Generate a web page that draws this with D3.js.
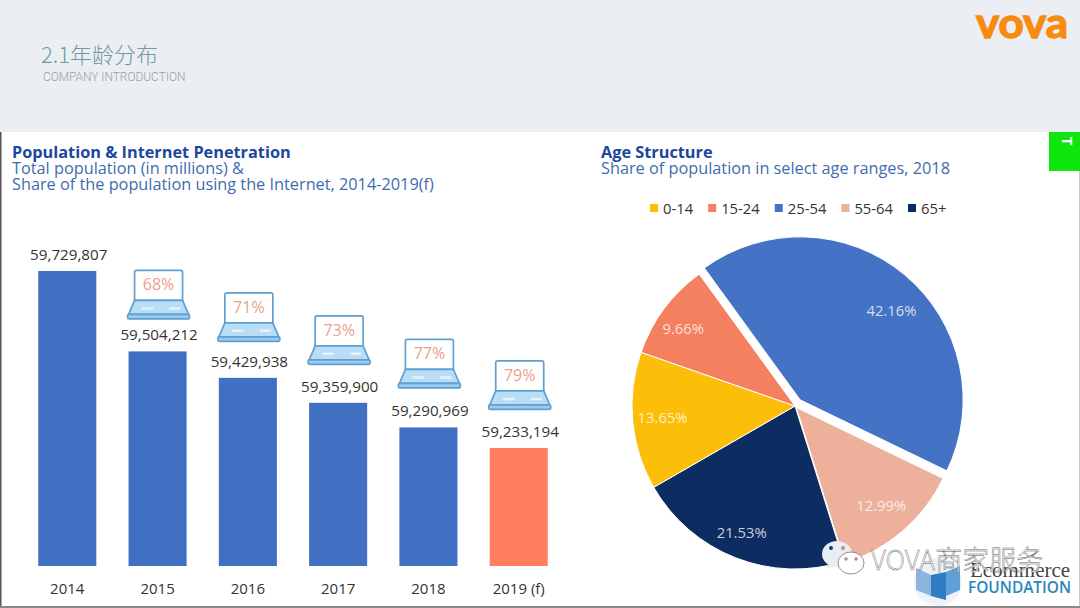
<!DOCTYPE html>
<html>
<head>
<meta charset="utf-8">
<script src="https://cdn.jsdelivr.net/npm/d3@7"></script>
<style>
  html, body { margin: 0; padding: 0; background: #fff; }
  svg { display: block; }
  text { font-family: "Open Sans", sans-serif; }
</style>
</head>
<body>
<div id="chart"></div>
<script>
// bar chart data
const years = ["2014", "2015", "2016", "2017", "2018", "2019 (f)"];
const population = [59729807, 59504212, 59429938, 59359900, 59290969, 59233194];
const internetShare = [null, 68, 71, 73, 77, 79];

// pie data
const ageRanges = ["0-14", "15-24", "25-54", "55-64", "65+"];
const ageShares = [13.65, 9.66, 42.16, 12.99, 21.53];
const pieOrder = ["25-54", "55-64", "65+", "0-14", "15-24"];

const width = 1080, height = 608;
const svg = d3.select("#chart").append("svg").attr("width", width).attr("height", height);

// page frame
svg.append("rect").attr("width", width).attr("height", height).attr("fill", "#fff");
svg.append("rect").attr("width", width).attr("height", 132).attr("fill", "#ebeef3");
svg.append("rect").attr("x", 0).attr("y", 132).attr("width", 1.5).attr("height", height - 132).attr("fill", "#555");
svg.append("rect").attr("x", 1079).attr("y", 132).attr("width", 1).attr("height", height - 132).attr("fill", "#c8c8c8");
svg.append("rect").attr("x", 0).attr("y", 606).attr("width", width).attr("height", 2).attr("fill", "#8a8a8a");

// header
svg.append("text").attr("x", 41).attr("y", 63).attr("font-size", 22).attr("font-weight", 300)
  .attr("fill", "#6f9a9e").style("font-family", '"Noto Sans CJK SC", sans-serif').text("2.1年龄分布");
svg.append("text").attr("x", 43).attr("y", 81).attr("font-size", 11.9).attr("font-weight", 300)
  .attr("fill", "#9a9fa5").style("font-family", "Roboto, sans-serif").text("COMPANY INTRODUCTION");
svg.append("text").attr("transform", "translate(976,38) scale(1,1.15)").attr("font-size", 37).attr("font-weight", 700)
  .attr("fill", "#f98a10").attr("stroke", "#f98a10").attr("stroke-width", 1.2)
  .style("font-family", "Lato, sans-serif")
  .attr("textLength", 92).attr("lengthAdjust", "spacingAndGlyphs").text("vova");

// chart titles
const title = (x, y, txt, bold) => svg.append("text").attr("x", x).attr("y", y)
  .attr("font-size", 16.3).attr("font-weight", bold ? 700 : 400)
  .attr("fill", bold ? "#1b479f" : "#3f6cae").text(txt);
title(12, 158, "Population & Internet Penetration", true);
title(12, 174, "Total population (in millions) &", false);
title(12, 190, "Share of the population using the Internet, 2014-2019(f)", false);
title(601, 158, "Age Structure", true);
title(601, 174, "Share of population in select age ranges, 2018", false);

// green tab, top right
svg.append("rect").attr("x", 1049).attr("y", 132).attr("width", 31).attr("height", 39).attr("fill", "#0ee60e");
svg.append("text").attr("transform", "translate(1062,141) rotate(90)").attr("font-size", 15).attr("font-weight", 700)
  .attr("text-anchor", "middle").attr("fill", "#fff").text("T");

// bars
const x = d3.scaleBand().domain(years).range([22, 564]).paddingInner(0.357).paddingOuter(0.18);
const y = d3.scaleLinear().domain([58902000, 59729807]).range([566, 271]);

svg.append("g").selectAll("rect")
  .data(years)
  .enter()
  .append("rect")
  .attr("x", d => x(d))
  .attr("y", (d, i) => y(population[i]))
  .attr("width", x.bandwidth())
  .attr("height", (d, i) => y.range()[0] - y(population[i]))
  .attr("fill", (d, i) => i === years.length - 1 ? "#ff7f5f" : "#4170c2");

svg.append("g").selectAll("text")
  .data(years)
  .enter()
  .append("text")
  .attr("x", d => x(d) + x.bandwidth() / 2 + 1.5)
  .attr("y", (d, i) => y(population[i]) - 11)
  .attr("text-anchor", "middle").attr("font-size", 15.2).attr("fill", "#333")
  .text((d, i) => d3.format(",")(population[i]));

// category axis
const xAxis = svg.append("g").attr("transform", "translate(0,566)").call(d3.axisBottom(x).tickSize(0).tickPadding(17));
xAxis.select(".domain").remove();
xAxis.selectAll("text").attr("font-size", 15).attr("fill", "#333").style("font-family", '"Open Sans", sans-serif');

// laptop icons, sit above each bar with the internet share on the screen
const laptopLift = [0, 32, 36, 38, 39, 38];
const laptops = svg.append("g").selectAll("g")
  .data(years.filter((d, i) => internetShare[i] !== null))
  .enter()
  .append("g")
  .attr("transform", d => {
    const i = years.indexOf(d);
    return "translate(" + (x(d) + x.bandwidth() / 2 + 1) + "," + (y(population[i]) - laptopLift[i]) + ")";
  });

laptops.append("path").attr("d", "M-24,-19 V-47 Q-24,-49 -22,-49 H22 Q24,-49 24,-47 V-19 Z")
  .attr("fill", "#fff").attr("stroke", "#5f9fd2").attr("stroke-width", 1.7);
laptops.append("path").attr("d", "M-24,-19 H24 L30,-5 H-30 Z")
  .attr("fill", "#b9dcf7").attr("stroke", "#5f9fd2").attr("stroke-width", 1.7);
laptops.append("rect").attr("x", -31).attr("y", -5).attr("width", 62).attr("height", 4.5).attr("rx", 1.5)
  .attr("fill", "#9accf0").attr("stroke", "#5f9fd2").attr("stroke-width", 1.7);
laptops.append("path").attr("d", "M-17,-11 H-5 M11,-11 H22").attr("stroke", "#e4f2fc").attr("stroke-width", 2.5);
laptops.append("text").attr("y", -29).attr("text-anchor", "middle").attr("font-size", 16)
  .attr("fill", "#eb9f8a").text(d => internetShare[years.indexOf(d)] + "%");

// pie
const color = d3.scaleOrdinal().domain(ageRanges).range(["#fdbe0a", "#f4805f", "#4472c4", "#ecb09b", "#0c2c62"]);
const cx = 795, cy = 406, radius = 163;
const toRad = Math.PI / 180;
const pieData = pieOrder.map(k => ({ key: k, value: ageShares[ageRanges.indexOf(k)] }));
const arcs = d3.pie().sort(null).value(d => d.value).startAngle(-36 * toRad).endAngle(324 * toRad)(pieData);
const arc = d3.arc().innerRadius(0).outerRadius(radius);
const labelArc = d3.arc().innerRadius(133).outerRadius(133);
const explode = { "25-54": 8, "55-64": 2 };
const labelNudge = { "25-54": [6, 13], "65+": [-5, 3], "55-64": [-2, -2], "15-24": [-5, 2], "0-14": [0, -1] };

const slices = svg.append("g").attr("transform", "translate(" + cx + "," + cy + ")")
  .selectAll("g").data(arcs).enter().append("g")
  .attr("transform", d => {
    const off = explode[d.data.key] || 0, mid = (d.startAngle + d.endAngle) / 2;
    return "translate(" + off * Math.sin(mid) + "," + -off * Math.cos(mid) + ")";
  });
slices.append("path").attr("d", arc).attr("fill", d => color(d.data.key)).attr("stroke", "#fff").attr("stroke-width", 1);
slices.append("text")
  .attr("transform", d => {
    const c = labelArc.centroid(d), n = labelNudge[d.data.key] || [0, 0];
    return "translate(" + (c[0] + n[0]) + "," + (c[1] + n[1]) + ")";
  })
  .attr("text-anchor", "middle").attr("dy", "0.35em").attr("font-size", 14.8).attr("fill", "rgba(255,255,255,0.78)")
  .text(d => d.value.toFixed(2) + "%");

// legend
const legend = svg.append("g").attr("transform", "translate(650,214)");
let lx = 0;
ageRanges.forEach(k => {
  legend.append("rect").attr("x", lx).attr("y", -10).attr("width", 8).attr("height", 8).attr("fill", color(k));
  const t = legend.append("text").attr("x", lx + 13).attr("font-size", 14.8).attr("fill", "#333").text(k);
  lx += 13 + t.node().getComputedTextLength() + 15;
});

// ecommerce foundation logo
const logo = svg.append("g");
logo.append("circle").attr("cx", 938).attr("cy", 582).attr("r", 24).attr("fill", "#eef2f7");
logo.append("path").attr("d", "M916,568 L931,575 V596 L916,590 Z").attr("fill", "#8fb4dc");
logo.append("path").attr("d", "M931,575 L946,572 V600 L931,596 Z").attr("fill", "#2d7cc4");
logo.append("path").attr("d", "M946,572 L960,566 V590 L946,596 Z").attr("fill", "#5f9fd6");
logo.append("text").attr("x", 970).attr("y", 577).attr("font-size", 21).attr("fill", "#444")
  .style("font-family", '"Liberation Serif", serif').attr("textLength", 100).attr("lengthAdjust", "spacingAndGlyphs").text("Ecommerce");
logo.append("text").attr("x", 968).attr("y", 593).attr("font-size", 15.5).attr("font-weight", 600)
  .attr("fill", "#2a86b8").attr("textLength", 103).attr("lengthAdjust", "spacingAndGlyphs").text("FOUNDATION");

// wechat watermark
const mark = svg.append("g");
mark.append("ellipse").attr("cx", 837).attr("cy", 554).attr("rx", 15).attr("ry", 13).attr("fill", "#e8edf3");
mark.append("path").attr("d", "M828,565 L826,569 L834,567 Z").attr("fill", "#e8edf3");
mark.append("circle").attr("cx", 831).attr("cy", 548).attr("r", 2).attr("fill", "#153a72");
mark.append("circle").attr("cx", 843).attr("cy", 548).attr("r", 2).attr("fill", "#c98a80");
mark.append("ellipse").attr("cx", 851).attr("cy", 563).attr("rx", 13).attr("ry", 11).attr("fill", "#fff").attr("stroke", "#777").attr("stroke-width", 0.8);
mark.append("circle").attr("cx", 846).attr("cy", 559).attr("r", 1.7).attr("fill", "#b08a88");
mark.append("circle").attr("cx", 856).attr("cy", 559).attr("r", 1.7).attr("fill", "#b08a88");
mark.append("text").attr("x", 871).attr("y", 570).attr("font-size", 27).attr("font-weight", 300)
  .attr("fill", "#fff").attr("stroke", "#666").attr("stroke-width", 0.45)
  .style("font-family", '"Noto Sans CJK SC", sans-serif').text("VOVA商家服务");
</script>
</body>
</html>
